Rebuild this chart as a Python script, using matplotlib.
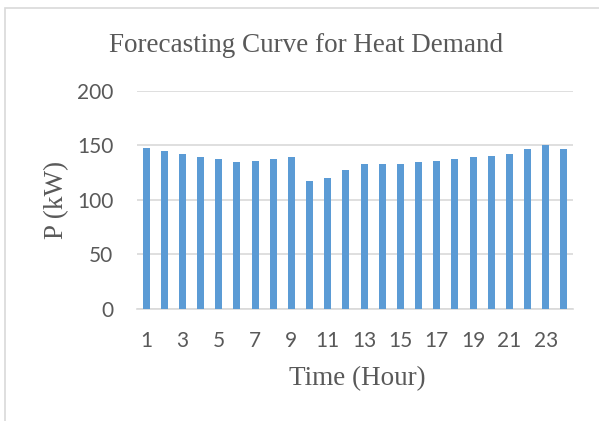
import matplotlib.pyplot as plt
from matplotlib.patches import Rectangle

# hourly forecast of heat demand (kW)
hours = list(range(1, 25))
demand = [148, 145, 142, 139, 137.5, 135, 136, 137.5, 139, 117, 120, 127,
          133, 133, 133, 135, 136, 137.5, 139, 140.5, 142, 147, 150, 147]
yticks = [0, 50, 100, 150, 200]

bar_color = '#5B9BD5'
grid_color = '#D9D9D9'
text_color = '#595959'
serif = 'Liberation Serif'
sans = 'Lato'

fig = plt.figure(figsize=(5.99, 4.21), dpi=100)
ax = fig.add_axes([137 / 599, 1 - 308.6 / 421, 436 / 599, 217.6 / 421])

# outer chart frame
fig.patches.append(Rectangle((5 / 599, -0.1), 1.2, 1 - 8 / 421 + 0.1,
                             transform=fig.transFigure, fill=False,
                             edgecolor=grid_color, linewidth=1.2))

ax.bar(hours, demand, width=0.38, color=bar_color, zorder=3)

ax.set_xlim(0.5, 24.5)
ax.set_ylim(0, 200)
ax.set_yticks(yticks)
ax.set_xticks(hours[::2])
ax.yaxis.grid(True, color=grid_color, linewidth=1.2, zorder=0)

for side in ['top', 'right', 'left']:
    ax.spines[side].set_visible(False)
ax.spines['bottom'].set_color(grid_color)
ax.spines['bottom'].set_linewidth(1.2)
ax.tick_params(length=0, labelsize=15, labelcolor=text_color)
ax.tick_params(axis='x', pad=16)
ax.tick_params(axis='y', pad=17)
for lbl in ax.get_xticklabels() + ax.get_yticklabels():
    lbl.set_fontfamily(sans)

fig.text(306 / 599, 1 - 45 / 421, 'Forecasting Curve for Heat Demand',
         ha='center', va='center', fontsize=19.5, family=serif, color=text_color)
fig.text(357 / 599, 1 - 379 / 421, 'Time (Hour)', ha='center', va='center',
         fontsize=19.5, family=serif, color=text_color)
fig.text(57 / 599, 1 - 200 / 421, 'P (kW)', ha='center', va='center',
         rotation=90, fontsize=19.5, family=serif, color=text_color)

plt.savefig('out.png', dpi=100)
